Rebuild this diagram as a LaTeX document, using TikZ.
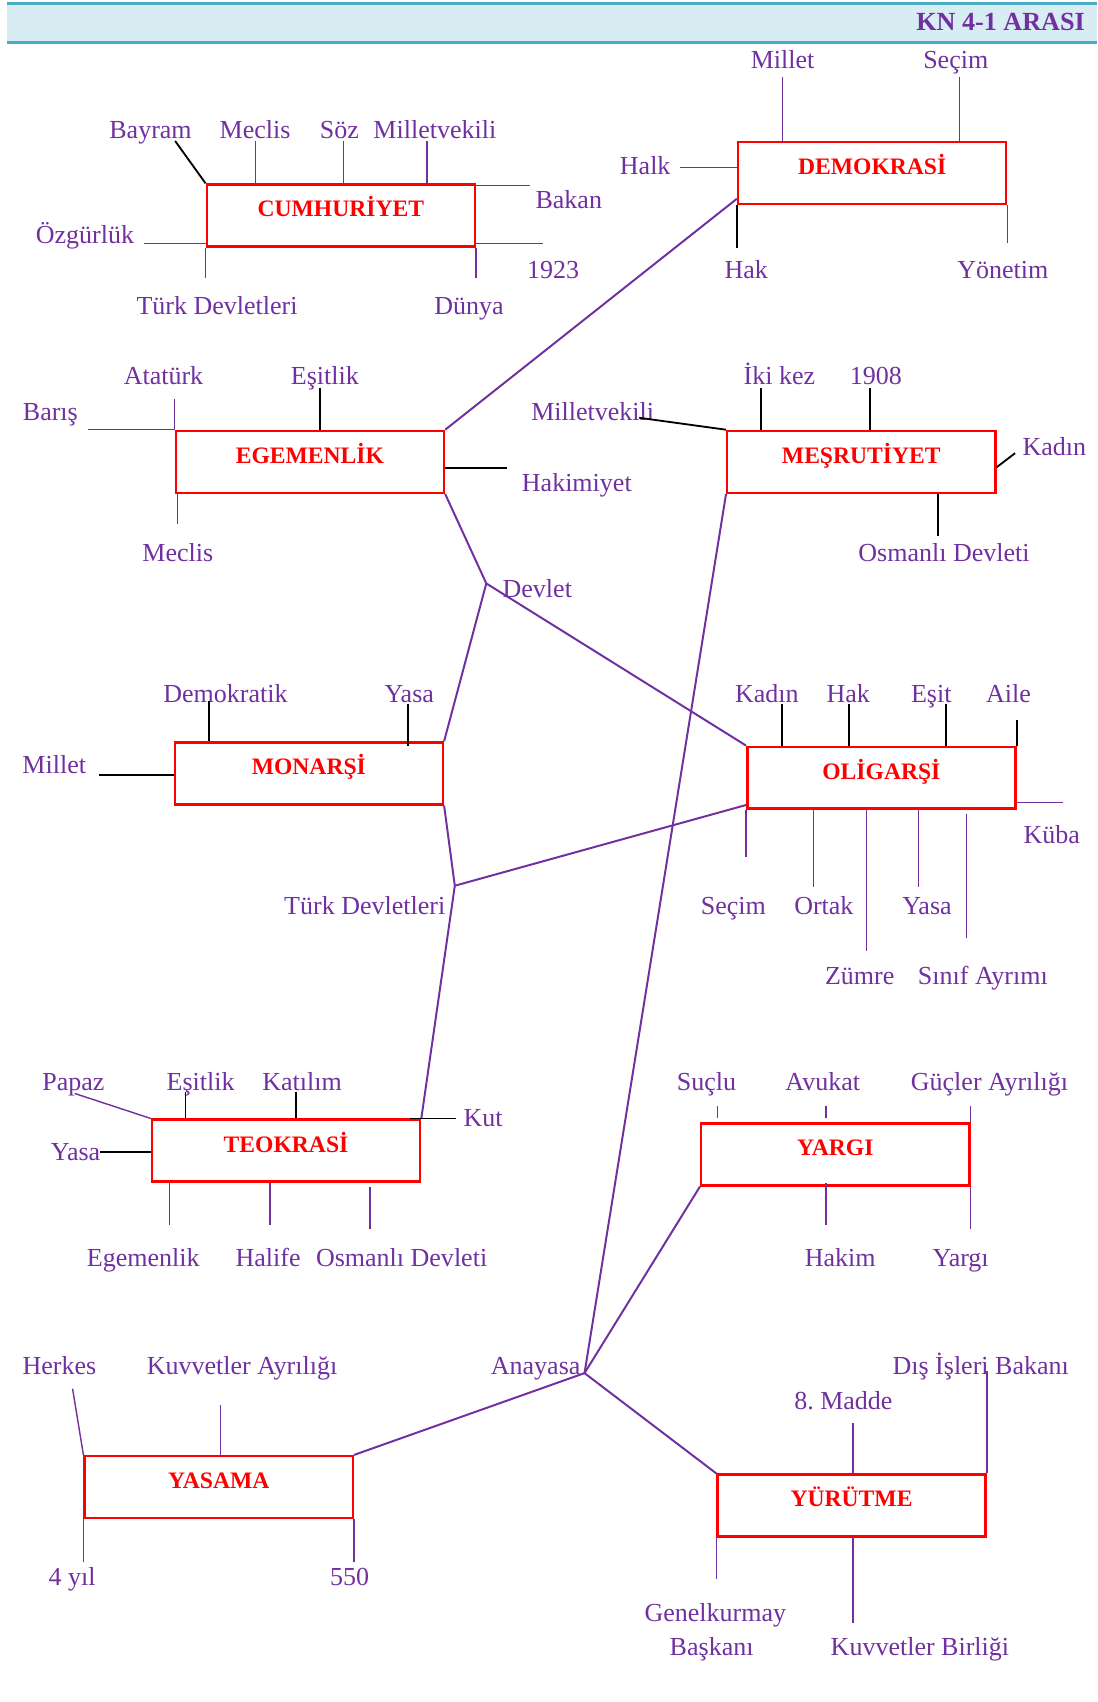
\documentclass[tikz,border=0pt]{standalone}
\usepackage{fontspec}
\setmainfont{Liberation Serif}
\usetikzlibrary{calc}
\definecolor{lila}{RGB}{112,48,160}
\definecolor{kirmizi}{RGB}{255,0,0}
\definecolor{bantmavi}{RGB}{215,236,243}
\definecolor{bantcizgi}{RGB}{75,172,198}
\tikzstyle{concept}=[rectangle,draw=kirmizi,line width=1.7pt,fill=white,minimum width=6.669cm,minimum height=1.539cm,inner sep=0pt,text=kirmizi,font=\fontsize{16.7}{20}\selectfont\bfseries,text height=0.45cm,text depth=0.38cm]
\tikzstyle{term}=[text=lila,inner sep=0pt,font=\fontsize{18.4}{22}\selectfont,text height=1.1em,text depth=0.1em]
\tikzstyle{link}=[draw,lila,line width=1.4pt]
\tikzstyle{spoke}=[draw,lila,line width=1pt]
\tikzstyle{dark spoke}=[draw,black,line width=1.3pt]

\begin{document}
\begin{tikzpicture}[x=0.027cm,y=-0.027cm]
\useasboundingbox (0,0) rectangle (1011,1568);

% title band
\fill[bantmavi] (6.5,3) rectangle (1011,39.5);
\draw[bantcizgi,line width=2pt] (6.5,3) -- (1011,3) (6.5,39.5) -- (1011,39.5);
\node[anchor=east,text=lila,font=\fontsize{18.5}{22}\selectfont\bfseries] (title) at (1004,20) {KN 4-1 ARASI};

% concept boxes
\foreach \pos/\name/\txt in {{(314,198.5)/cum/CUMHURİYET}, {(803.5,159.5)/dem/DEMOKRASİ},
    {(285.5,425.5)/ege/EGEMENLİK}, {(793.5,425.5)/mes/MEŞRUTİYET},
    {(284.5,712.5)/mon/MONARŞİ}, {(812,716.5)/oli/OLİGARŞİ},
    {(263.5,1060)/teo/TEOKRASİ}, {(769.5,1063.5)/yar/YARGI},
    {(201.5,1370)/yas/YASAMA}, {(784.5,1387)/yur/YÜRÜTME}}
    \node[concept] (\name) at \pos {\txt};

% junctions
\coordinate (devlet) at (448,537.5);
\coordinate (turk) at (419,816);
\coordinate (anayasa) at (538.5,1265);

% the words
\foreach \pos/\name/\txt in {{(721,57)/dMillet/Millet}, {(880.5,57)/dSecim/Seçim},
    {(594.4,154)/dHalk/Halk}, {(687.5,250.5)/dHak/Hak}, {(923.8,250.5)/dYonetim/Yönetim},
    {(138.7,121.5)/cBayram/Bayram}, {(235,121.5)/cMeclis/Meclis}, {(312.6,121.5)/cSoz/Söz},
    {(400.6,121.5)/cMvekili/Milletvekili}, {(524,186)/cBakan/Bakan}, {(78.3,218)/cOzgurluk/Özgürlük},
    {(509.5,250.5)/cYil/1923}, {(200,283)/cTurk/Türk Devletleri}, {(432,283)/cDunya/Dünya},
    {(150.6,348)/eAtaturk/Atatürk}, {(299.3,348)/eEsitlik/Eşitlik}, {(46.4,381)/eBaris/Barış},
    {(531.4,446)/eHakimiyet/Hakimiyet}, {(163.8,510.6)/eMeclis/Meclis},
    {(718,348)/mIkikez/İki kez}, {(807,348)/mYil/1908}, {(546,381)/mMvekili/Milletvekili},
    {(971.3,413)/mKadin/Kadın}, {(869.7,510.6)/mOsmanli/Osmanlı Devleti},
    {(495,544)/devletTxt/Devlet},
    {(207.7,640.6)/nDemokratik/Demokratik}, {(377,640.6)/nYasa/Yasa}, {(50,706)/nMillet/Millet},
    {(336,835.6)/turkTxt/Türk Devletleri},
    {(706.5,640.6)/oKadin/Kadın}, {(781.5,640.6)/oHak/Hak}, {(858,640.6)/oEsit/Eşit},
    {(929,640.6)/oAile/Aile}, {(969,771)/oKuba/Küba}, {(675.6,835.6)/oSecim/Seçim},
    {(759,835.6)/oOrtak/Ortak}, {(854,835.6)/oYasa/Yasa}, {(792,900.6)/oZumre/Zümre},
    {(905.5,900.6)/oSinif/Sınıf Ayrımı},
    {(67.7,998.5)/tPapaz/Papaz}, {(184.8,998.5)/tEsitlik/Eşitlik}, {(278.3,998.5)/tKatilim/Katılım},
    {(445,1031)/tKut/Kut}, {(69.6,1063)/tYasa/Yasa}, {(132,1160.5)/tEgemenlik/Egemenlik},
    {(247,1160.5)/tHalife/Halife}, {(370,1160.5)/tOsmanli/Osmanlı Devleti},
    {(650.8,998.5)/gSuclu/Suçlu}, {(758,998.5)/gAvukat/Avukat}, {(911.6,998.5)/gGucler/Güçler Ayrılığı},
    {(774,1160.5)/gHakim/Hakim}, {(885,1160.5)/gYargi/Yargı},
    {(493.5,1259.6)/anayasaTxt/Anayasa},
    {(54.8,1259.6)/sHerkes/Herkes}, {(223,1259.6)/sKuvvet/Kuvvetler Ayrılığı},
    {(66.4,1454.6)/sYil/4 yıl}, {(322,1454.6)/sSayi/550},
    {(903.5,1259.6)/uDisisleri/Dış İşleri Bakanı}, {(777,1292)/uMadde/8.\ Madde},
    {(659,1487)/uGenel/Genelkurmay}, {(655.6,1519)/uBaskan/Başkanı},
    {(847.5,1519)/uBirlik/Kuvvetler Birliği}}
    \node[term] (\name) at \pos {\txt};

% links between the boxes
\path[link] (dem.south west) ++(0,-6) -- (ege.north east);
\path[link] (ege.south east) -- (devlet) -- (oli.north west);
\path[link] (devlet) -- (mon.north east);
\path[link] (mon.south east) -- (turk) -- (teo.north east);
\path[link] (turk) -- ($(oli.south west)+(0,-4.5)$);
\path[link] (mes.south west) -- (anayasa) -- (yas.north east);
\path[link] (yar.south west) -- (anayasa) -- (yur.north west);

% Cumhuriyet
\path[dark spoke] (cum.north west) -- ++(-28,-39);
\foreach \dx in {46,127,204} \path[spoke] (cum.north west) ++(\dx,0) -- ++(0,-39);
\path[spoke] (cum.north east) ++(0,2) -- ++(50,0);
\path[spoke] (cum.south east) ++(0,-4) -- ++(62,0);
\path[spoke] (cum.south west) ++(0,-4) -- ++(-57,0);
\foreach \n in {south west,south east} \path[spoke] (cum.\n) -- ++(0,28);

% Demokrasi
\foreach \dx in {42,205} \path[spoke] (dem.north west) ++(\dx,0) -- ++(0,-59);
\path[spoke] (dem.west) ++(0,-5) -- ++(-52,0);
\path[dark spoke] (dem.south west) -- ++(0,39);
\path[spoke] (dem.south east) -- ++(0,35);

% Egemenlik
\path[spoke] (ege.north west) -- ++(0,-28);
\path[spoke] (ege.north west) -- ++(-80,0);
\path[dark spoke] (ege.north west) ++(134,0) -- ++(0,-38);
\path[dark spoke] (ege.east) ++(0,5.5) -- ++(57,0);
\path[spoke] (ege.south west) ++(2.5,0) -- ++(0,28);

% Mesrutiyet
\foreach \dx in {32,133} \path[dark spoke] (mes.north west) ++(\dx,0) -- ++(0,-38);
\path[dark spoke] (mes.north west) -- ++(-80,-11);
\path[dark spoke] (mes.east) ++(0,5) -- ++(17,-13);
\path[dark spoke] (mes.south west) ++(195,0) -- ++(0,39);

% Monarsi
\path[dark spoke] (mon.north west) ++(32.5,0) -- ++(0,-37);
\path[dark spoke] (mon.north west) ++(216,4) -- ++(0,-38);
\path[dark spoke] (mon.west) ++(0,1.5) -- ++(-69,0);

% Oligarsi
\foreach \dx in {33,95,184} \path[dark spoke] (oli.north west) ++(\dx,0) -- ++(0,-38);
\path[dark spoke] (oli.north east) -- ++(0,-24);
\path[spoke] (oli.south east) ++(0,-7) -- ++(43,0);
\foreach \dx/\len in {0/43,62/71,111/130,159/71} \path[spoke] (oli.south west) ++(\dx,0) -- ++(0,\len);
\path[spoke] (oli.south west) ++(203,4) -- ++(0,114);

% Teokrasi
\path[spoke] (teo.north west) -- ++(-70,-23);
\foreach \dx in {32,133.5} \path[dark spoke] (teo.north west) ++(\dx,0) -- ++(0,-24);
\path[dark spoke] (teo.north east) ++(-10,0) -- ++(42,0);
\path[dark spoke] (teo.west) ++(0,1.5) -- ++(-47,0);
\foreach \dx in {17.5,110} \path[spoke] (teo.south west) ++(\dx,0) -- ++(0,38.5);
\path[spoke] (teo.south west) ++(202,4) -- ++(0,39);

% Yargi
\foreach \dx in {16,116} \path[spoke] (yar.north west) ++(\dx,-4) -- ++(0,-11);
\path[spoke] (yar.north east) -- ++(0,-15);
\path[spoke] (yar.south west) ++(116,-3) -- ++(0,38);
\path[spoke] (yar.south east) -- ++(0,39);

% Yasama
\path[spoke] (yas.north west) -- ++(-10,-61);
\path[spoke] (yas.north west) ++(126.5,0) -- ++(0,-46);
\foreach \n in {south west,south east} \path[spoke] (yas.\n) -- ++(0,39);

% Yurutme
\path[spoke] (yur.north east) -- ++(0,-94.5);
\path[spoke] (yur.north west) ++(126,0) -- ++(0,-46);
\path[spoke] (yur.south west) -- ++(0,38.5);
\path[spoke] (yur.south west) ++(126,0) -- ++(0,78.5);
\end{tikzpicture}
\end{document}
